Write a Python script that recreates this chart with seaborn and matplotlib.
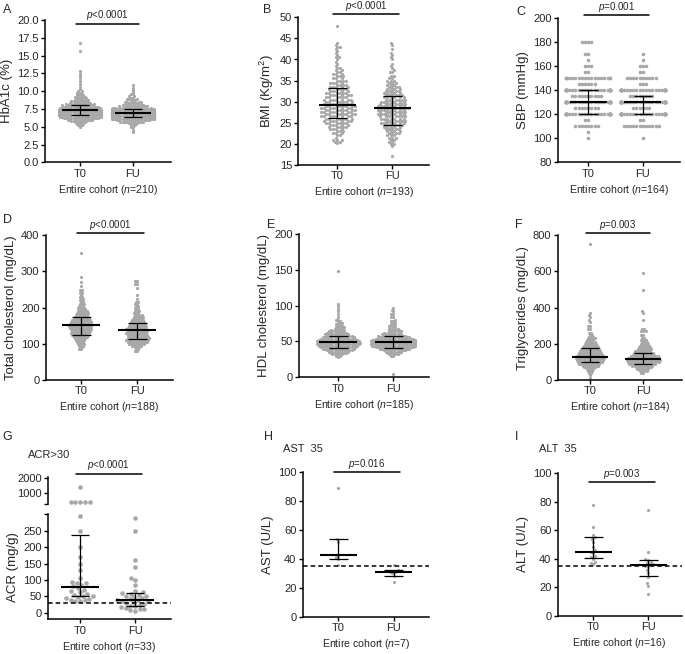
import numpy as np
import pandas as pd
import seaborn as sns
import matplotlib.pyplot as plt

groups = ["T0", "FU"]

# HbA1c (%) - value / count
hba1c_t0_vals = [5.0, 5.2, 5.4, 5.6, 5.8, 6.0, 6.2, 6.4, 6.6, 6.8, 7.0, 7.2, 7.4, 7.6, 7.8, 8.0, 8.2, 8.4,
                 8.6, 8.8, 9.0, 9.2, 9.4, 9.6, 9.8, 10.0, 10.3, 10.6, 11.0, 11.4, 11.8, 12.1, 12.4, 12.8, 15.6, 16.7]
hba1c_t0_counts = [1, 2, 3, 4, 6, 9, 11, 13, 15, 16, 16, 15, 14, 12, 11, 10, 8, 7,
                   6, 5, 4, 4, 3, 2, 2, 2, 1, 1, 1, 1, 1, 1, 1, 1, 1, 1]
hba1c_fu_vals = [4.3, 4.6, 4.9, 5.2, 5.5, 5.7, 5.9, 6.1, 6.3, 6.5, 6.7, 6.9, 7.1, 7.3, 7.5, 7.7, 7.9, 8.1,
                 8.3, 8.5, 8.7, 8.9, 9.1, 9.3, 9.6, 9.9, 10.2, 10.5, 10.8]
hba1c_fu_counts = [1, 1, 2, 3, 5, 7, 10, 13, 16, 19, 20, 20, 18, 15, 13, 10, 8, 6,
                   5, 4, 3, 3, 2, 2, 2, 1, 1, 1, 1]
hba1c_median = [7.3, 6.95]
hba1c_q1 = [6.7, 6.4]
hba1c_q3 = [8.1, 7.55]

# BMI
bmi_t0_vals = [20.3, 20.5, 21, 21.5, 22, 22.5, 23, 23.5, 24, 24.5, 25, 25.5, 26, 26.5, 27, 27.5, 28, 28.5,
               29, 29.5, 30, 30.5, 31, 31.5, 32, 32.5, 33, 33.5, 34, 34.5, 35, 35.5, 36, 36.5, 37, 37.5,
               38, 38.5, 39, 39.5, 40, 40.5, 41, 41.5, 42, 42.5, 43, 43.5, 44, 48]
bmi_t0_counts = [1, 2, 3, 1, 2, 3, 3, 4, 5, 5, 6, 7, 7, 8, 8, 8, 8, 8,
                 8, 7, 7, 7, 6, 6, 6, 5, 5, 5, 4, 4, 4, 3, 3, 3, 2, 2,
                 2, 1, 1, 1, 1, 2, 1, 1, 1, 1, 2, 1, 1, 1]
bmi_fu_vals = [17.2, 19.5, 20, 20.5, 21, 21.5, 22, 22.5, 23, 23.5, 24, 24.5, 25, 25.5, 26, 26.5, 27, 27.5,
               28, 28.5, 29, 29.5, 30, 30.5, 31, 31.5, 32, 32.5, 33, 33.5, 34, 34.5, 35, 35.5, 36, 37,
               37.5, 38, 38.5, 39, 40, 40.5, 41, 41.5, 42.5, 43.5, 44]
bmi_fu_counts = [1, 1, 2, 2, 2, 3, 3, 4, 4, 5, 5, 6, 7, 7, 7, 8, 8, 8,
                 8, 9, 8, 8, 7, 7, 6, 6, 5, 5, 4, 4, 3, 3, 3, 2, 2, 2,
                 1, 1, 1, 1, 1, 1, 1, 1, 1, 1, 1]
bmi_median = [29.1, 28.4]
bmi_q1 = [26.2, 24.5]
bmi_q3 = [33.2, 31.4]

# SBP (mmHg)
sbp_t0_vals = [100, 105, 110, 115, 120, 125, 130, 135, 140, 145, 150, 155, 160, 165, 170, 180]
sbp_t0_counts = [1, 1, 8, 2, 32, 8, 34, 10, 32, 6, 18, 2, 3, 1, 2, 4]
sbp_fu_vals = [100, 110, 115, 120, 125, 130, 135, 140, 145, 150, 155, 160, 165, 170]
sbp_fu_counts = [1, 12, 2, 38, 6, 42, 8, 34, 3, 10, 2, 3, 1, 1]
sbp_median = [130, 130]
sbp_q1 = [120, 120]
sbp_q3 = [140, 135]

# Total cholesterol (mg/dL)
tc_t0_vals = [85, 90, 95, 100, 105, 110, 115, 120, 125, 130, 135, 140, 145, 150, 155, 160, 165, 170, 175,
              180, 185, 190, 195, 200, 205, 210, 215, 220, 225, 230, 235, 240, 245, 250, 260, 270, 285, 350]
tc_t0_counts = [2, 2, 3, 4, 4, 5, 6, 7, 8, 9, 9, 10, 10, 11, 10, 10, 9, 8, 7,
                6, 6, 5, 4, 4, 3, 3, 2, 2, 2, 2, 1, 2, 1, 2, 1, 1, 1, 1]
tc_fu_vals = [80, 85, 90, 95, 100, 105, 110, 115, 120, 125, 130, 135, 140, 145, 150, 155, 160, 165, 170,
              175, 180, 185, 190, 195, 200, 205, 210, 215, 225, 235, 255, 265, 270, 275]
tc_fu_counts = [2, 2, 3, 5, 8, 10, 11, 11, 10, 10, 10, 10, 10, 9, 9, 8, 7, 6, 5,
                5, 4, 3, 3, 2, 2, 2, 2, 2, 1, 1, 1, 2, 1, 2]
tc_median = [152, 137]
tc_q1 = [124, 112]
tc_q3 = [175, 158]

# HDL cholesterol (mg/dL)
hdl_t0_vals = [28, 30, 32, 34, 36, 38, 40, 42, 44, 46, 48, 50, 52, 54, 56, 58, 60, 62, 64, 66, 68,
               70, 72, 74, 76, 78, 80, 84, 88, 92, 96, 100, 103, 148]
hdl_t0_counts = [1, 2, 4, 5, 6, 8, 9, 10, 11, 12, 12, 12, 11, 10, 9, 8, 7, 6, 5, 4, 3,
                 3, 2, 2, 2, 1, 2, 1, 1, 1, 1, 1, 1, 1]
hdl_fu_vals = [4, 30, 32, 34, 36, 38, 40, 42, 44, 46, 48, 50, 52, 54, 56, 58, 60, 62, 64, 66, 68,
               70, 72, 74, 76, 78, 80, 84, 88, 92, 94, 97]
hdl_fu_counts = [1, 2, 3, 4, 5, 7, 9, 11, 12, 13, 13, 13, 12, 11, 9, 8, 6, 5, 4, 3, 3,
                 2, 2, 2, 1, 2, 1, 2, 2, 1, 1, 1]
hdl_median = [49, 49]
hdl_q1 = [41, 41]
hdl_q3 = [58, 57]

# Triglycerides (mg/dL)
tg_t0_vals = [10, 30, 40, 50, 60, 70, 80, 90, 100, 110, 120, 130, 140, 150, 160, 170, 180, 190, 200,
              210, 220, 230, 240, 250, 260, 280, 300, 320, 330, 350, 360, 370, 750]
tg_t0_counts = [1, 1, 2, 3, 4, 6, 8, 10, 12, 13, 14, 13, 12, 11, 10, 9, 8, 7, 6,
                5, 4, 4, 3, 2, 2, 2, 2, 1, 1, 1, 1, 1, 1]
tg_fu_vals = [40, 50, 60, 70, 80, 90, 100, 110, 120, 130, 140, 150, 160, 170, 180, 190, 200, 210, 220,
              230, 250, 270, 280, 330, 370, 380, 500, 590]
tg_fu_counts = [2, 4, 6, 8, 10, 13, 15, 16, 15, 13, 11, 10, 8, 7, 6, 5, 4, 3, 3,
                2, 2, 3, 2, 1, 1, 1, 1, 1]
tg_median = [127, 114]
tg_q1 = [98, 90]
tg_q3 = [175, 149]

# ACR (mg/g), ACR>30 subgroup
acr_t0 = [1430, 410, 410, 410, 410, 410, 295, 250, 200, 170, 150, 130, 105, 95, 90, 90, 85,
          80, 75, 70, 65, 62, 58, 55, 52, 50, 48, 45, 42, 40, 38, 36, 35]
acr_fu = [290, 250, 160, 140, 105, 100, 85, 65, 62, 60, 58, 55, 52, 50, 48, 45, 42,
          40, 38, 36, 35, 33, 30, 28, 25, 22, 20, 18, 15, 12, 10, 8, 5]
acr_median = [77, 40]
acr_q1 = [50, 22]
acr_q3 = [236, 61]
acr_break = 300

# AST (U/L)
ast_t0 = [89, 54, 52, 43, 41, 40, 36]
ast_fu = [36, 32, 31, 31, 30, 28, 24]
ast_median = [43, 31]
ast_q1 = [40, 28.4]
ast_q3 = [54, 32]

# ALT (U/L)
alt_t0 = [78, 62, 57, 55, 54, 52, 48, 46, 45, 44, 42, 41, 40, 38, 37, 36]
alt_fu = [74, 45, 40, 39, 38, 37, 36, 36, 35, 34, 32, 30, 27, 23, 21, 15]
alt_median = [44.7, 35.6]
alt_q1 = [40.3, 28.1]
alt_q3 = [55, 38.9]

GREY = "#a8a8a8"
W, H = 685, 654

sns.set_style("ticks")
plt.rcParams["font.family"] = ["Liberation Sans", "DejaVu Sans"]
plt.rcParams["mathtext.fontset"] = "custom"
plt.rcParams["mathtext.rm"] = "Liberation Sans"
plt.rcParams["mathtext.it"] = "Liberation Sans:italic"

# marker size used to lay the swarm out vs. size shown (GraphPad lets dots overlap)
swarm_sizes = {}


def frame(t0, fu):
    return pd.DataFrame({"time": ["T0"] * len(t0) + ["FU"] * len(fu),
                         "value": np.concatenate([t0, fu])})


def box(left, top, right, bottom):
    return [left / W, 1 - bottom / H, (right - left) / W, (bottom - top) / H]


def style(ax, xlim, ylim, yticks, ylabels=None, bottom=True):
    ax.set_xlim(*xlim)
    ax.set_ylim(*ylim)
    ax.set_yticks(yticks)
    if ylabels is not None:
        ax.set_yticklabels(ylabels)
    sns.despine(ax=ax, bottom=not bottom)
    for s in ["left", "bottom"]:
        ax.spines[s].set_linewidth(1.1)
        ax.spines[s].set_color("black")
    ax.tick_params(length=3, width=1, labelsize=8, pad=1.5, color="black")
    if not bottom:
        ax.tick_params(axis="x", bottom=False, labelbottom=False)


def swarm(ax, df, layout, shown=2.3, **kws):
    sns.swarmplot(data=df, x="time", y="value", order=groups, color=GREY, size=layout,
                  linewidth=0, ax=ax, warn_thresh=1, zorder=1, **kws)
    swarm_sizes[ax] = shown


def summary(ax, med, q1, q3):
    for i in range(len(groups)):
        ax.hlines(med[i], i - 0.34, i + 0.34, color="black", lw=1.5, zorder=3)
        ax.vlines(i, q1[i], q3[i], color="black", lw=0.9, zorder=3)
        ax.hlines([q1[i], q3[i]], i - 0.17, i + 0.17, color="black", lw=0.9, zorder=3)


def pbar(ax, y, text):
    ax.plot([-0.08, 1.12], [y, y], color="black", lw=1.1, clip_on=False)
    ax.annotate(text, (0.52, y), xytext=(0, 0.8), textcoords="offset points",
                ha="center", va="bottom", fontsize=7, annotation_clip=False)


def labels(ax, ylabel, n):
    ax.set_xlabel(f"Entire cohort ($n$={n})", fontsize=7.6, labelpad=3)
    ax.set_ylabel(ylabel, fontsize=9.5, labelpad=3)
    ax.set_xticks(range(len(groups)))
    ax.set_xticklabels(groups, fontsize=8)


fig = plt.figure(figsize=(W / 100, H / 100), dpi=100)

# A
ax = fig.add_axes(box(45, 20, 171, 162.3))
swarm(ax, frame(np.repeat(hba1c_t0_vals, hba1c_t0_counts), np.repeat(hba1c_fu_vals, hba1c_fu_counts)), 1.5)
summary(ax, hba1c_median, hba1c_q1, hba1c_q3)
style(ax, (-0.66, 1.72), (0, 20), np.arange(0, 20.1, 2.5), [f"{v:.1f}" for v in np.arange(0, 20.1, 2.5)])
labels(ax, "HbA1c (%)", 210)
pbar(ax, 19.5, "$p$<0.0001")

# B
ax = fig.add_axes(box(298.3, 17.3, 429.3, 165))
swarm(ax, frame(np.repeat(bmi_t0_vals, bmi_t0_counts), np.repeat(bmi_fu_vals, bmi_fu_counts)), 1.9)
summary(ax, bmi_median, bmi_q1, bmi_q3)
style(ax, (-0.71, 1.67), (15, 50), range(15, 51, 5))
labels(ax, "BMI (Kg/m$^2$)", 193)
pbar(ax, 50.85, "$p$<0.0001")

# C
ax = fig.add_axes(box(557.7, 18.3, 680, 162.3))
swarm(ax, frame(np.repeat(sbp_t0_vals, sbp_t0_counts), np.repeat(sbp_fu_vals, sbp_fu_counts)), 2.2, 2.6)
summary(ax, sbp_median, sbp_q1, sbp_q3)
style(ax, (-0.56, 1.68), (80, 200), range(80, 201, 20))
labels(ax, "SBP (mmHg)", 164)
pbar(ax, 202.7, "$p$=0.001")

# D
ax = fig.add_axes(box(45.7, 235.3, 173.3, 380))
swarm(ax, frame(np.repeat(tc_t0_vals, tc_t0_counts), np.repeat(tc_fu_vals, tc_fu_counts)), 1.5)
summary(ax, tc_median, tc_q1, tc_q3)
style(ax, (-0.63, 1.64), (0, 400), range(0, 401, 100))
labels(ax, "Total cholesterol (mg/dL)", 188)
pbar(ax, 407, "$p$<0.0001")

# E
ax = fig.add_axes(box(299, 234, 429.3, 377.3))
swarm(ax, frame(np.repeat(hdl_t0_vals, hdl_t0_counts), np.repeat(hdl_fu_vals, hdl_fu_counts)), 1.6)
summary(ax, hdl_median, hdl_q1, hdl_q3)
style(ax, (-0.71, 1.65), (0, 200), range(0, 201, 50))
labels(ax, "HDL cholesterol (mg/dL)", 185)

# F
ax = fig.add_axes(box(557.7, 235.3, 681.7, 380))
swarm(ax, frame(np.repeat(tg_t0_vals, tg_t0_counts), np.repeat(tg_fu_vals, tg_fu_counts)), 1.5)
summary(ax, tg_median, tg_q1, tg_q3)
style(ax, (-0.61, 1.72), (0, 800), range(0, 801, 200))
labels(ax, "Triglycerides (mg/dL)", 184)
pbar(ax, 811, "$p$=0.003")

# G - broken axis: values above the break go to the upper segment
acr_df = frame(acr_t0, acr_fu)
ax_top = fig.add_axes(box(48.3, 476.5, 170.7, 504))
swarm(ax_top, acr_df[acr_df["value"] > acr_break], 3.3, 3.3, clip_on=False)
style(ax_top, (-0.58, 1.65), (acr_break, 2100), [acr_break, 1000, 2000], ["", "1000", "2000"], bottom=False)
ax_top.set_xlabel("")
ax_top.set_ylabel("")
pbar(ax_top, 2290, "$p$<0.0001")
ax = fig.add_axes(box(48.3, 514.3, 170.7, 619.3))
swarm(ax, acr_df[acr_df["value"] <= acr_break], 3.3, 3.3, clip_on=False)
summary(ax, acr_median, acr_q1, acr_q3)
ax.axhline(30, color="black", lw=1.1, ls=(0, (3, 2)), zorder=2)
style(ax, (-0.58, 1.65), (-20, acr_break), [0, 50, 100, 150, 200, 250, acr_break],
      ["0", "50", "100", "150", "200", "250", ""])
labels(ax, "ACR (mg/g)", 33)
fig.text(28 / W, 1 - 455 / H, "ACR>30", fontsize=8, va="center")

# H
ax = fig.add_axes(box(302.7, 472.3, 429.3, 616.7))
swarm(ax, frame(ast_t0, ast_fu), 2.2)
summary(ax, ast_median, ast_q1, ast_q3)
ax.axhline(35, color="black", lw=1.1, ls=(0, (3, 2)), zorder=2)
style(ax, (-0.65, 1.65), (0, 100), range(0, 101, 20))
labels(ax, "AST (U/L)", 7)
pbar(ax, 100, "$p$=0.016")
fig.text(283 / W, 1 - 449 / H, "AST  35", fontsize=8, va="center")

# I
ax = fig.add_axes(box(557.7, 473.3, 681.7, 615.7))
swarm(ax, frame(alt_t0, alt_fu), 2.2)
summary(ax, alt_median, alt_q1, alt_q3)
ax.axhline(35, color="black", lw=1.1, ls=(0, (3, 2)), zorder=2)
style(ax, (-0.65, 1.61), (0, 100), range(0, 101, 20))
labels(ax, "ALT (U/L)", 16)
pbar(ax, 93.7, "$p$=0.003")
fig.text(539 / W, 1 - 449 / H, "ALT  35", fontsize=8, va="center")

# panel letters
for letter, x, y in [("A", 3, 10), ("B", 263, 10), ("C", 516, 12),
                     ("D", 3, 220), ("E", 267, 225), ("F", 515, 225),
                     ("G", 2, 437), ("H", 264, 437), ("I", 515, 437)]:
    fig.text(x / W, 1 - y / H, letter, fontsize=9, va="center")

# lay the swarms out once, then keep those positions and show bigger dots
fig.canvas.draw()
for ax, shown in swarm_sizes.items():
    for coll in ax.collections:
        if "draw" in vars(coll):
            del coll.draw
            coll.set_sizes([shown ** 2])

fig.savefig("out.png", dpi=100)
